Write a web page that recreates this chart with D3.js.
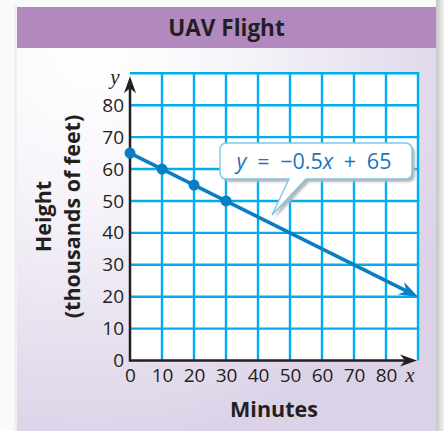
<!DOCTYPE html>
<html><head><meta charset="utf-8">
<script src="https://cdn.jsdelivr.net/npm/d3@7"></script>
<style>html,body{margin:0;padding:0;background:#fafafa;}svg{display:block;}</style>
</head><body>
<script>
const title = "UAV Flight";
const xLabel = "Minutes";
const yLabel1 = "Height";
const yLabel2 = "(thousands of feet)";
const xTicks = [0,10,20,30,40,50,60,70,80];
const yTicks = [0,10,20,30,40,50,60,70,80];
const gridX = [10,20,30,40,50,60,70,80,90];
const gridY = [10,20,30,40,50,60,70,80,90];
const pointX = [0,10,20,30];
const pointY = [65,60,55,50];
const lineX = [0,90];
const lineY = [65,20];
const eqParts = [["y",true],["\u2002=\u2002\u22120.5",false],["x",true],["\u2002+\u200265",false]];

const W=444,H=431;
const svg=d3.select("body").append("svg").attr("width",W).attr("height",H);
const defs=svg.append("defs");
const rg=defs.append("radialGradient").attr("id","bg").attr("gradientUnits","userSpaceOnUse")
  .attr("cx",90).attr("cy",50).attr("r",400);
rg.append("stop").attr("offset",0).attr("stop-color","#ffffff");
rg.append("stop").attr("offset",0.35).attr("stop-color","#f7f5fa");
rg.append("stop").attr("offset",1).attr("stop-color","#dcd2e8");
const sg=defs.append("linearGradient").attr("id","sh").attr("x1",0).attr("x2",1).attr("y1",0).attr("y2",0);
sg.append("stop").attr("offset",0).attr("stop-color","#c4c4c4");
sg.append("stop").attr("offset",1).attr("stop-color","#f2f2f2");
const bl=defs.append("filter").attr("id","blur").attr("x","-10%").attr("y","-10%").attr("width","130%").attr("height","140%");
bl.append("feGaussianBlur").attr("stdDeviation",1.2);

// page shadows
svg.append("rect").attr("x",436).attr("y",0).attr("width",8).attr("height",H).attr("fill","url(#sh)");
svg.append("rect").attr("x",14).attr("y",5).attr("width",3).attr("height",H).attr("fill","#f0f0f0");
// panel
svg.append("rect").attr("x",17).attr("y",7).attr("width",419).attr("height",H-7).attr("fill","url(#bg)");
svg.append("rect").attr("x",17).attr("y",7).attr("width",419).attr("height",41).attr("fill","#b189be");
svg.append("text").attr("x",226.5).attr("y",35.5).attr("text-anchor","middle")
  .attr("font-family","'Open Sans'").attr("font-weight","bold").attr("font-size",22.5)
  .attr("fill","#231f20").text(title);

const x=d3.scaleLinear().domain([0,90]).range([130,418]);
const y=d3.scaleLinear().domain([0,90]).range([360.5,73.3]);

// plot background
svg.append("rect").attr("x",x(0)).attr("y",y(90)).attr("width",x(90)-x(0)).attr("height",y(0)-y(90)).attr("fill","#fff");

const grid=svg.append("g").attr("stroke","#00aeef").attr("stroke-width",2.4);
grid.selectAll("line.v").data(gridX).join("line").attr("class","v")
  .attr("x1",d=>x(d)).attr("x2",d=>x(d)).attr("y1",y(0)).attr("y2",y(90)-1.2);
grid.selectAll("line.h").data(gridY).join("line").attr("class","h")
  .attr("x1",x(0)).attr("x2",x(90)+1.2).attr("y1",d=>y(d)).attr("y2",d=>y(d));

// axes
const ax=svg.append("g");
ax.append("line").attr("x1",x(0)).attr("x2",x(90)-12).attr("y1",y(0)).attr("y2",y(0)).attr("stroke","#231f20").attr("stroke-width",2.5);
ax.append("line").attr("x1",x(0)).attr("x2",x(0)).attr("y1",y(0)+1.2).attr("y2",y(90)+14).attr("stroke","#231f20").attr("stroke-width",2.5);
const xt=x(90)-1, yt=y(0);
ax.append("path").attr("d",`M${xt},${yt} L${xt-17},${yt-6} L${xt-12},${yt} L${xt-17},${yt+6} Z`).attr("fill","#231f20");
const yx=x(0), yy=y(90)+3;
ax.append("path").attr("d",`M${yx},${yy} L${yx-6},${yy+17} L${yx},${yy+12} L${yx+6},${yy+17} Z`).attr("fill","#231f20");

const xAxis=svg.append("g").attr("transform",`translate(0,${y(0)})`)
  .call(d3.axisBottom(x).tickValues(xTicks).tickSize(0).tickPadding(8).tickFormat(d3.format("d")));
xAxis.select(".domain").remove();
xAxis.selectAll("text").attr("font-family","'Open Sans'").attr("font-size",19).attr("fill","#231f20");
const yAxis=svg.append("g").attr("transform",`translate(${x(0)-6},0)`)
  .call(d3.axisLeft(y).tickValues(yTicks).tickSize(0).tickPadding(0).tickFormat(d3.format("d")));
yAxis.select(".domain").remove();
yAxis.selectAll("text").attr("font-family","'Open Sans'").attr("font-size",19).attr("fill","#231f20");

svg.append("text").attr("x",410).attr("y",382).attr("text-anchor","middle")
  .attr("font-family","'Liberation Serif'").attr("font-style","italic").attr("font-size",21).attr("fill","#231f20").text("x");
svg.append("text").attr("x",115).attr("y",84).attr("text-anchor","middle")
  .attr("font-family","'Liberation Serif'").attr("font-style","italic").attr("font-size",21).attr("fill","#231f20").text("y");

// axis titles
svg.append("text").attr("x",274).attr("y",417).attr("text-anchor","middle")
  .attr("font-family","'Open Sans'").attr("font-weight","bold").attr("font-size",21.5).attr("fill","#231f20").text(xLabel);
svg.append("text").attr("transform","translate(51,216.5) rotate(-90)").attr("text-anchor","middle")
  .attr("font-family","'Open Sans'").attr("font-weight","bold").attr("font-size",21.5).attr("fill","#231f20").text(yLabel1);
svg.append("text").attr("transform","translate(80,216.5) rotate(-90)").attr("text-anchor","middle")
  .attr("font-family","'Open Sans'").attr("font-weight","bold").attr("font-size",21.5).attr("fill","#231f20").text(yLabel2);

// data line
const lc="#0b7dc4";
const x0=x(lineX[0]),y0=y(lineY[0]),x1=x(lineX[1]),y1=y(lineY[1]);
const ang=Math.atan2(y1-y0,x1-x0);
const back=12;
svg.append("line").attr("x1",x0).attr("y1",y0).attr("x2",x1-back*Math.cos(ang)).attr("y2",y1-back*Math.sin(ang))
  .attr("stroke",lc).attr("stroke-width",3.6);
const pt=(l,w)=>[x1-l*Math.cos(ang)-w*Math.sin(ang), y1-l*Math.sin(ang)+w*Math.cos(ang)];
const a1=pt(19,7),a2=pt(13,0),a3=pt(19,-7);
svg.append("path").attr("d",`M${x1},${y1} L${a1} L${a2} L${a3} Z`).attr("fill",lc);
svg.selectAll("circle.pt").data(pointX.map((d,i)=>[d,pointY[i]])).join("circle").attr("class","pt")
  .attr("cx",d=>x(d[0])).attr("cy",d=>y(d[1])).attr("r",5.5).attr("fill",lc);

// callout
const bx=220,by=143,bw=192,bh=36,r=7,tipX=272,tipY=215,t1=289,t2=306;
const cp=`M${bx+r},${by} H${bx+bw-r} Q${bx+bw},${by} ${bx+bw},${by+r} V${by+bh-r} Q${bx+bw},${by+bh} ${bx+bw-r},${by+bh} H${t2} L${tipX},${tipY} L${t1},${by+bh} H${bx+r} Q${bx},${by+bh} ${bx},${by+bh-r} V${by+r} Q${bx},${by} ${bx+r},${by} Z`;
svg.append("path").attr("d",cp).attr("transform","translate(3,3)").attr("fill","#b8b8b8").attr("filter","url(#blur)");
svg.append("path").attr("d",cp).attr("fill","#fff").attr("stroke","#7fc6ea").attr("stroke-width",1.4);
const eq=svg.append("text").attr("x",bx+bw/2-2).attr("y",by+26).attr("text-anchor","middle")
  .attr("font-family","'Open Sans'").attr("font-size",21.5).attr("fill","#1a76bc").style("white-space","pre");
eq.selectAll("tspan").data(eqParts).join("tspan").attr("font-style",d=>d[1]?"italic":"normal").text(d=>d[0]);
</script>
</body></html>
